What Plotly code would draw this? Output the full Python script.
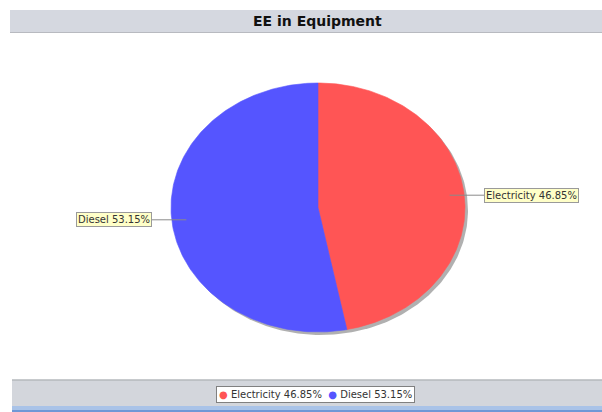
import numpy as np
import plotly.graph_objects as go

# ---- data ----
labels = ["Electricity", "Diesel"]
values = [46.85, 53.15]
colors = ["#FF5555", "#5555FF"]
chart_title = "EE in Equipment"

# ---- layout constants (pixels) ----
W, H = 602, 412
CX, CY, RX, RY = 318.0, 207.5, 147.0, 124.5   # ellipse of the pie
SHADOW = 3.0
LABEL_X = 1.13       # label edge distance in pie units
LINK_IN = 0.9


def px(x):
    return x / W


def py(y):
    return 1 - y / H


fig = go.Figure()

# shadow
t = np.linspace(0, 2 * np.pi, 361)
fig.add_trace(go.Scatter(
    x=np.sin(t) + SHADOW / RX, y=np.cos(t) - SHADOW / RY,
    fill="toself", fillcolor="rgba(150,150,150,0.75)", mode="lines",
    line=dict(width=0), hoverinfo="skip", showlegend=False))

total = float(sum(values))
start = 0.0
annotations = []
for lab, val, col in zip(labels, values, colors):
    a0 = start
    a1 = start + val / total * 2 * np.pi
    start = a1
    th = np.linspace(a0, a1, 200)
    xs = np.concatenate([[0], np.sin(th), [0]])
    ys = np.concatenate([[0], np.cos(th), [0]])
    fig.add_trace(go.Scatter(
        x=xs, y=ys, fill="toself", fillcolor=col, mode="lines",
        line=dict(width=0.6, color=col), hoverinfo="skip", showlegend=False))

    mid = (a0 + a1) / 2
    side = 1 if np.sin(mid) >= 0 else -1
    ly = np.cos(mid)
    fig.add_trace(go.Scatter(
        x=[LINK_IN * np.sin(mid), side * LABEL_X], y=[ly, ly], mode="lines",
        line=dict(width=1, color="#8A8A8A"), hoverinfo="skip", showlegend=False))
    pct = val / total * 100
    annotations.append(dict(
        x=side * LABEL_X, y=ly, xref="x", yref="y",
        text=f"{lab} {pct:.2f}%", showarrow=False,
        xanchor="left" if side > 0 else "right", yanchor="middle",
        font=dict(family="DejaVu Sans", size=10, color="#333333"),
        bgcolor="#FFFFC8", bordercolor="#9A9A9A", borderwidth=1, borderpad=1))

# title
annotations.append(dict(
    x=px(317.5), y=py(21), xref="paper", yref="paper", text=f"<b>{chart_title}</b>",
    showarrow=False, xanchor="center", yanchor="middle",
    font=dict(family="DejaVu Sans", size=14, color="#111111")))

# legend (manual, built from data)
parts = []
for lab, val, col in zip(labels, values, colors):
    parts.append(f"<span style='color:{col}'>●</span> {lab} {val / total * 100:.2f}%")
annotations.append(dict(
    x=px(315.5), y=py(394), xref="paper", yref="paper", text="  ".join(parts),
    showarrow=False, xanchor="center", yanchor="middle",
    font=dict(family="DejaVu Sans", size=10, color="#333333"),
    bgcolor="#FFFFFF", bordercolor="#808080", borderwidth=1, borderpad=2))

shapes = [
    # title band
    dict(type="rect", xref="paper", yref="paper", x0=px(10), x1=px(602), y0=py(32), y1=py(10),
         fillcolor="#D5D8E0", line=dict(width=0), layer="below"),
    dict(type="line", xref="paper", yref="paper", x0=px(10), x1=px(602), y0=py(32.5), y1=py(32.5),
         line=dict(color="#B8BAC0", width=1), layer="below"),
    # legend band
    dict(type="rect", xref="paper", yref="paper", x0=px(12), x1=px(602), y0=py(406), y1=py(380),
         fillcolor="#D3D6DC", line=dict(width=0), layer="below"),
    dict(type="line", xref="paper", yref="paper", x0=px(12), x1=px(602), y0=py(380), y1=py(380),
         line=dict(color="#B5B8BD", width=1.5), layer="below"),
    dict(type="rect", xref="paper", yref="paper", x0=px(12), x1=px(602), y0=py(410), y1=py(406),
         fillcolor="#A9C3E8", line=dict(width=0), layer="below"),
    dict(type="rect", xref="paper", yref="paper", x0=px(12), x1=px(602), y0=py(412), y1=py(410),
         fillcolor="#6F98D6", line=dict(width=0), layer="below"),
]

fig.update_layout(
    width=W, height=H, margin=dict(l=0, r=0, t=0, b=0),
    paper_bgcolor="#FFFFFF", plot_bgcolor="#FFFFFF",
    showlegend=False,
    xaxis=dict(range=[-CX / RX, (W - CX) / RX], visible=False, fixedrange=True),
    yaxis=dict(range=[-(H - CY) / RY, CY / RY], visible=False, fixedrange=True),
    annotations=annotations, shapes=shapes,
)

fig.write_html(
    "out.html",
    config={"displayModeBar": False},
    post_script="document.body.style.margin='0';document.body.style.overflow='hidden';",
)
